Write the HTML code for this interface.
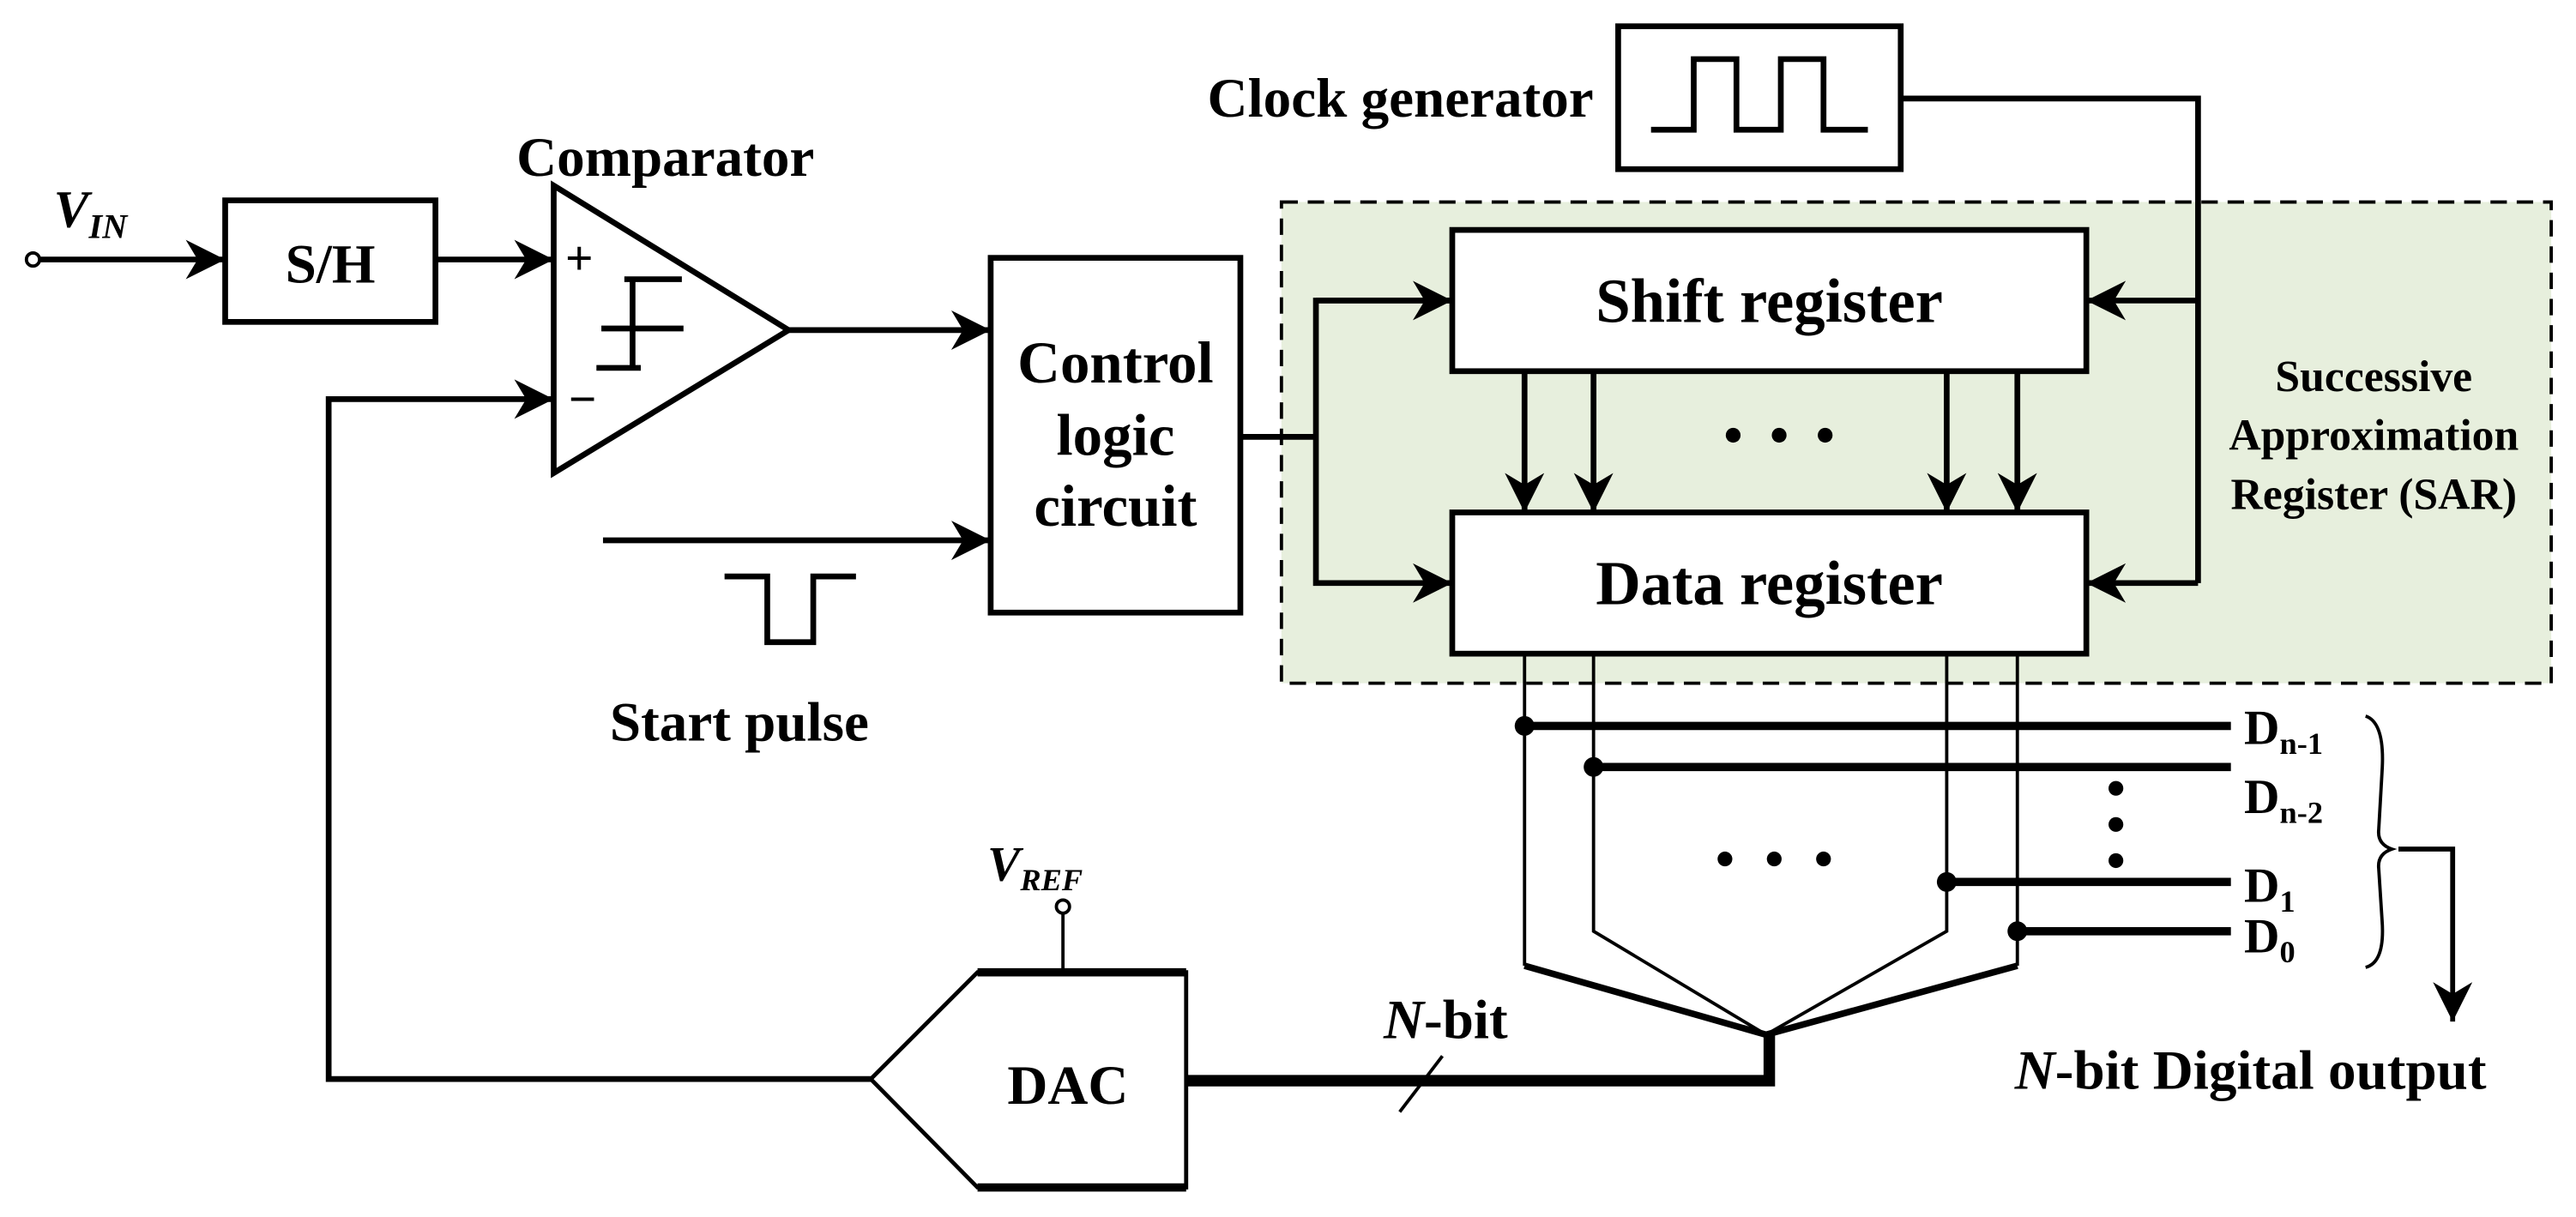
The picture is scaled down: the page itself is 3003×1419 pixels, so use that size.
<!DOCTYPE html>
<html><head><meta charset="utf-8"><style>
html,body{margin:0;padding:0;background:#fff;}
svg{display:block;}
text{font-family:"Liberation Serif",serif;font-weight:bold;fill:#000;}
</style></head><body>
<svg width="3003" height="1419" viewBox="0 0 1568 741" xmlns="http://www.w3.org/2000/svg">
<defs>
<marker id="arb" viewBox="0 0 10 10" markerWidth="24" markerHeight="24" refX="10" refY="5" orient="auto" markerUnits="userSpaceOnUse">
<path d="M0,0 L10,5 L0,10 L3,5 z" fill="#000"/>
</marker>
</defs>
<g fill="none" stroke="#000" stroke-width="3.5">
<rect x="780" y="123" width="773" height="293" fill="#e7efdd" stroke-dasharray="10,6" stroke-width="2"/>
<circle cx="20" cy="158" r="4" fill="#fff" stroke-width="2"/>
<line x1="24" y1="158" x2="137" y2="158" marker-end="url(#arb)"/>
<rect x="137" y="122" width="128" height="74"/>
<line x1="265" y1="158" x2="337" y2="158" marker-end="url(#arb)"/>
<path d="M337,113 L480,201 L337,288 Z"/>
<path d="M380,170 L415,170 M385,170 L385,224 M363,224 L390,224 M366,200 L416,200"/>
<line x1="480" y1="201" x2="603" y2="201" marker-end="url(#arb)"/>
<polyline points="530,657 200,657 200,243 337,243" marker-end="url(#arb)"/>
<rect x="603" y="157" width="152" height="216"/>
<line x1="367" y1="329" x2="603" y2="329" marker-end="url(#arb)"/>
<polyline points="441,351 467,351 467,391 495,391 495,351 521,351"/>
<polyline points="755,266 801,266"/>
<polyline points="884,183 801,183 801,355 884,355" marker-end="url(#arb)"/>
<line x1="801" y1="183" x2="884" y2="183" marker-end="url(#arb)"/>
<rect x="884" y="140" width="386" height="86" fill="#fff"/>
<rect x="884" y="312" width="386" height="86" fill="#fff"/>
<line x1="928" y1="226" x2="928" y2="312" marker-end="url(#arb)"/>
<line x1="970" y1="226" x2="970" y2="312" marker-end="url(#arb)"/>
<line x1="1185" y1="226" x2="1185" y2="312" marker-end="url(#arb)"/>
<line x1="1228" y1="226" x2="1228" y2="312" marker-end="url(#arb)"/>
<rect x="985" y="16" width="172" height="87"/>
<polyline points="1005,79 1031,79 1031,36 1057,36 1057,79 1084,79 1084,36 1110,36 1110,79 1137,79"/>
<polyline points="1157,60 1338,60 1338,355"/>
<line x1="1338" y1="183" x2="1270" y2="183" marker-end="url(#arb)"/>
<line x1="1338" y1="355" x2="1270" y2="355" marker-end="url(#arb)"/>
<g stroke-width="2">
<polyline points="928,398 928,588"/>
<polyline points="970,398 970,567 1075,630"/>
<polyline points="1185,398 1185,567 1075,630"/>
<polyline points="1228,398 1228,588"/>
</g>
<polyline points="928,588 1075,630 1228,588" stroke-width="4"/>
<line x1="928" y1="442" x2="1358" y2="442" stroke-width="5"/>
<line x1="970" y1="467" x2="1358" y2="467" stroke-width="5"/>
<line x1="1185" y1="537" x2="1358" y2="537" stroke-width="5"/>
<line x1="1228" y1="567" x2="1358" y2="567" stroke-width="5"/>
<polyline points="1077,628 1077,658 722,658" stroke-width="7"/>
<line x1="852" y1="677" x2="878" y2="643" stroke-width="2"/>
<path d="M722,592 L595,592 L530,657 L595,723 L722,723 Z" fill="#fff" stroke-width="2.5"/>
<line x1="595" y1="592" x2="722" y2="592" stroke-width="5"/>
<line x1="595" y1="723" x2="722" y2="723" stroke-width="5"/>
<line x1="647" y1="556" x2="647" y2="592" stroke-width="2"/>
<circle cx="647" cy="552" r="4" fill="#fff" stroke-width="2"/>
<path d="M1440,436 Q1452,440 1450,470 L1448,505 Q1447,514 1456,517 Q1447,520 1448,529 L1450,560 Q1452,586 1440,589" stroke-width="2"/>
<polyline points="1460,517 1493,517 1493,622" stroke-width="3" marker-end="url(#arb)"/>
</g>
<g fill="#000">
<circle cx="928" cy="442" r="6"/><circle cx="970" cy="467" r="6"/>
<circle cx="1185" cy="537" r="6"/><circle cx="1228" cy="567" r="6"/>
<circle cx="1055" cy="265" r="4.5"/><circle cx="1083" cy="265" r="4.5"/><circle cx="1111" cy="265" r="4.5"/>
<circle cx="1050" cy="523" r="4.5"/><circle cx="1080" cy="523" r="4.5"/><circle cx="1110" cy="523" r="4.5"/>
<circle cx="1288" cy="480" r="4.5"/><circle cx="1288" cy="502" r="4.5"/><circle cx="1288" cy="524" r="4.5"/>
</g>
<g font-size="34">
<text x="55" y="138" font-style="italic" text-anchor="middle" font-size="32">V<tspan font-size="21" dy="7">IN</tspan></text>
<text x="201" y="172" text-anchor="middle">S/H</text>
<text x="405" y="107" text-anchor="middle">Comparator</text>
<text x="344" y="167" font-size="30">+</text>
<text x="346" y="253" font-size="30">−</text>
<text x="679" y="233" text-anchor="middle" font-size="36">Control</text>
<text x="679" y="277" text-anchor="middle" font-size="36">logic</text>
<text x="679" y="320" text-anchor="middle" font-size="36">circuit</text>
<text x="450" y="451" text-anchor="middle">Start pulse</text>
<text x="970" y="71" text-anchor="end">Clock generator</text>
<text x="1077" y="196" text-anchor="middle" font-size="38">Shift register</text>
<text x="1077" y="368" text-anchor="middle" font-size="38">Data register</text>
<text x="1445" y="238" text-anchor="middle" font-size="27">Successive</text>
<text x="1445" y="274" text-anchor="middle" font-size="27">Approximation</text>
<text x="1445" y="310" text-anchor="middle" font-size="27">Register (SAR)</text>
<text x="1366" y="453" font-size="30">D<tspan font-size="19" dy="6">n-1</tspan></text>
<text x="1366" y="495" font-size="30">D<tspan font-size="19" dy="6">n-2</tspan></text>
<text x="1366" y="549" font-size="30">D<tspan font-size="19" dy="6">1</tspan></text>
<text x="1366" y="580" font-size="30">D<tspan font-size="19" dy="6">0</tspan></text>
<text x="1370" y="663" text-anchor="middle"><tspan font-style="italic">N</tspan>-bit Digital output</text>
<text x="880" y="632" text-anchor="middle"><tspan font-style="italic">N</tspan>-bit</text>
<text x="650" y="672" text-anchor="middle" font-weight="normal" font-size="34">DAC</text>
<text x="630" y="536" text-anchor="middle" font-style="italic" font-size="30">V<tspan font-size="19" dy="6">REF</tspan></text>
</g>
</svg>
</body></html>
